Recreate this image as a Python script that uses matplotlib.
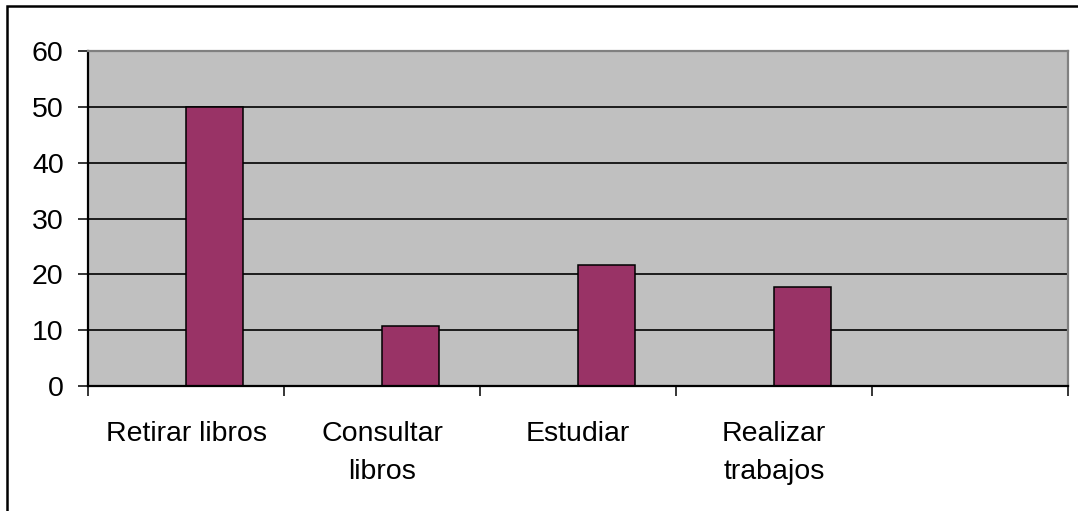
import matplotlib

matplotlib.use("Agg")
import matplotlib.pyplot as plt
from matplotlib.patches import Rectangle

# data
categories = ["Retirar libros", "Consultar\nlibros", "Estudiar", "Realizar\ntrabajos", ""]
values = [50, 10.8, 21.6, 17.7]
y_ticks = [0, 10, 20, 30, 40, 50, 60]

W, H = 1078, 511
BAR_COLOR = "#993366"
PLOT_BG = "#c0c0c0"

plt.rcParams["font.family"] = ["Liberation Sans", "DejaVu Sans"]

fig = plt.figure(figsize=(W / 100, H / 100), dpi=100)
fig.patch.set_facecolor("white")

left, right, top, bottom = 88, 1068, 51, 386
ax = fig.add_axes([left / W, 1 - bottom / H, (right - left) / W, (bottom - top) / H])
ax.set_facecolor(PLOT_BG)

n_slots = len(categories)
ax.set_xlim(0, n_slots)
ax.set_ylim(y_ticks[0], y_ticks[-1])

for yv in y_ticks[1:-1]:
    ax.axhline(yv, color="black", linewidth=1.2, zorder=1)

xs = [i + 0.5 for i in range(len(values))]
ax.bar(xs, values, width=0.29, align="edge", color=BAR_COLOR,
       edgecolor="black", linewidth=1.1, zorder=2)

# category boundaries as major ticks, labels on minor ticks
ax.set_xticks(range(n_slots + 1))
ax.set_xticklabels([])
ax.set_xticks([i + 0.5 for i in range(n_slots)], minor=True)
ax.set_xticklabels(categories, minor=True, fontsize=20.5, linespacing=1.6)
ax.tick_params(axis="x", which="major", direction="out", length=7.5, width=1.1, color="black")
ax.tick_params(axis="x", which="minor", length=0, pad=25)

ax.set_yticks(y_ticks)
ax.tick_params(axis="y", direction="out", length=7.5, width=1.1, labelsize=20.5, pad=10)

for side in ("left", "bottom"):
    ax.spines[side].set_color("black")
    ax.spines[side].set_linewidth(1.6)
for side in ("top", "right"):
    ax.spines[side].set_color("#808080")
    ax.spines[side].set_linewidth(1.6)

# outer chart frame, cut off at right and bottom like the reference
frame = Rectangle((7 / W, -0.1), 2.0, 1 - 6 / H + 0.1, transform=fig.transFigure,
                  fill=False, edgecolor="black", linewidth=1.8, clip_on=False)
fig.add_artist(frame)

fig.savefig("out.png", dpi=100)
plt.close(fig)
